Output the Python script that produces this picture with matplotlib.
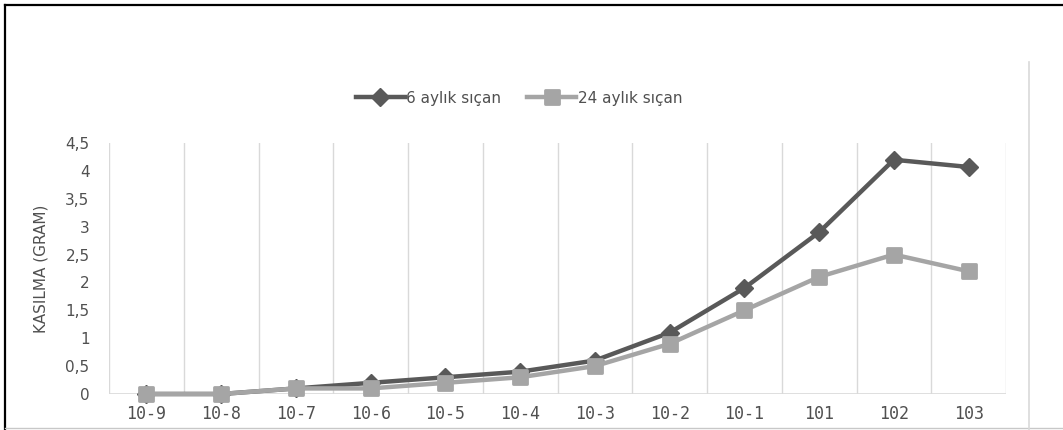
import matplotlib
matplotlib.use("Agg")
import matplotlib.pyplot as plt
from matplotlib.lines import Line2D
from matplotlib.markers import MarkerStyle
from matplotlib.ticker import FuncFormatter

categories = ["10-9", "10-8", "10-7", "10-6", "10-5", "10-4", "10-3", "10-2", "10-1", "101", "102", "103"]
series_6 = [0, 0, 0.1, 0.2, 0.3, 0.4, 0.6, 1.1, 1.9, 2.9, 4.2, 4.07]
series_24 = [0, 0, 0.1, 0.1, 0.2, 0.3, 0.5, 0.9, 1.5, 2.1, 2.5, 2.2]
label_6 = "6 aylık sıçan"
label_24 = "24 aylık sıçan"
y_label = "KASILMA (GRAM)"
y_ticks = [0, 0.5, 1, 1.5, 2, 2.5, 3, 3.5, 4, 4.5]

dark = "#595959"
light = "#a5a5a5"
text_c = "#505050"
W, H = 1063, 430

fig = plt.figure(figsize=(W / 100, H / 100), dpi=100)
ax = fig.add_axes([109 / W, (H - 394) / H, (1006 - 109) / W, (394 - 143) / H])

x = list(range(len(categories)))
ax.set_xlim(-0.5, len(categories) - 0.5)
ax.set_ylim(0, 4.5)

for b in range(len(categories) + 1):
    ax.axvline(b - 0.5, color="#d9d9d9", lw=1.0, zorder=0)
ax.axhline(0, color="#d9d9d9", lw=1.2, zorder=1)

sq = MarkerStyle("s", joinstyle="round")
ax.plot(x, series_6, color=dark, lw=3.2, marker="D", ms=9, mfc=dark, mec=dark,
        label=label_6, zorder=3, clip_on=False)
ax.plot(x, series_24, color=light, lw=3.2, marker=sq, ms=10, mfc=light, mec=light,
        mew=2, label=label_24, zorder=4, clip_on=False)

for s in ax.spines.values():
    s.set_visible(False)

ax.set_xticks(x)
ax.set_xticklabels(categories, family="DejaVu Sans Mono", fontsize=12, color=text_c)
ax.set_yticks(y_ticks)
ax.yaxis.set_major_formatter(FuncFormatter(lambda v, p: ("%g" % v).replace(".", ",")))
ax.tick_params(axis="y", length=0, labelsize=11, labelcolor=text_c, pad=14)
ax.tick_params(axis="x", length=0, pad=8)
ax.set_ylabel(y_label, fontsize=11, color=text_c)
ax.yaxis.set_label_coords(-60 / (1006 - 109), 0.5)

leg = fig.legend(loc="center", bbox_to_anchor=(519 / W, 1 - 98 / H), ncol=2, frameon=False,
                 fontsize=11, handlelength=3.2, handletextpad=0.1, columnspacing=1.7,
                 labelcolor=text_c)

# frame lines
fig.add_artist(Line2D([5 / W, 1], [1 - 5 / H, 1 - 5 / H], color="black", lw=1.6, transform=fig.transFigure))
fig.add_artist(Line2D([5 / W, 5 / W], [0, 1 - 5 / H], color="black", lw=1.6, transform=fig.transFigure))
fig.add_artist(Line2D([5 / W, 1], [2 / H, 2 / H], color="#c8c8c8", lw=1.0, transform=fig.transFigure))
fig.add_artist(Line2D([1029 / W, 1029 / W], [0, 1 - 62 / H], color="#d9d9d9", lw=1.2, transform=fig.transFigure))

fig.savefig("out.png", dpi=100)
